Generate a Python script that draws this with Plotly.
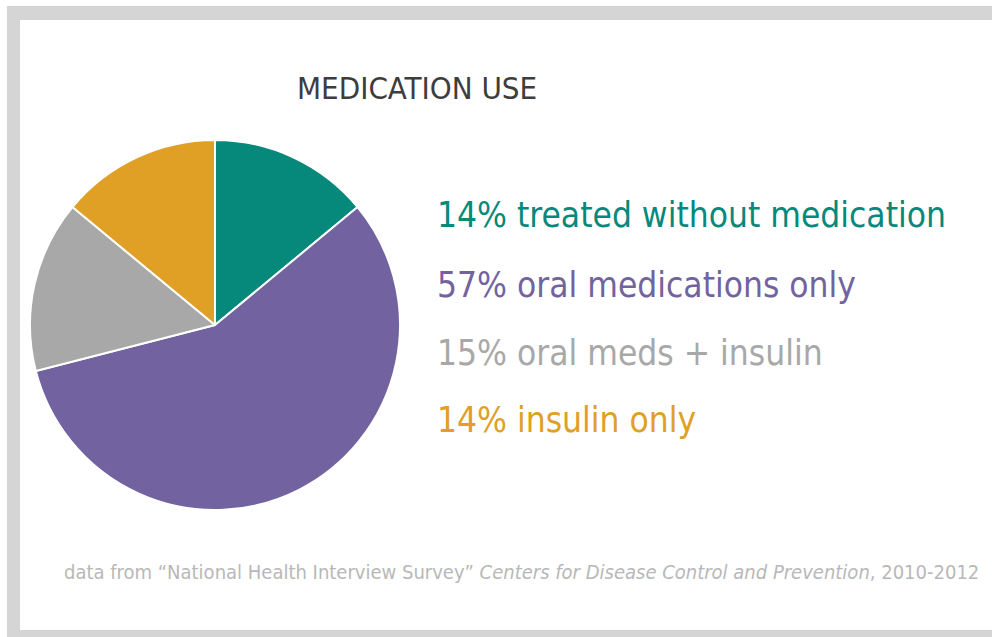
import plotly.graph_objects as go

categories = ["treated without medication", "oral medications only", "oral meds + insulin", "insulin only"]
values = [14, 57, 15, 14]
colors = ["#06897b", "#7263a0", "#a8a8a8", "#e0a026"]
title_text = "MEDICATION USE"
footer_plain = "data from \u201cNational Health Interview Survey\u201d "
footer_italic = "Centers for Disease Control and Prevention"
footer_end = ", 2010-2012"

W, H = 992, 637
FONT = "DejaVu Sans Condensed, Liberation Sans Narrow, sans-serif"

def px(x):
    return x / W

def py(y):
    return 1 - y / H

cx, cy, r = 215, 325, 185

fig = go.Figure()
fig.add_trace(go.Pie(
    labels=categories, values=values, sort=False, direction="clockwise", rotation=0,
    marker=dict(colors=colors, line=dict(color="white", width=2)),
    textinfo="none", hoverinfo="label+percent", showlegend=False,
    domain=dict(x=[px(cx - r), px(cx + r)], y=[py(cy + r), py(cy - r)]),
))

shapes = [
    dict(type="rect", xref="paper", yref="paper", x0=px(7), x1=1, y0=0, y1=py(6),
         fillcolor="#d5d5d5", line=dict(width=0), layer="below"),
    dict(type="rect", xref="paper", yref="paper", x0=px(20), x1=1, y0=py(630), y1=py(20),
         fillcolor="white", line=dict(width=0), layer="below"),
]

annotations = [
    dict(text=title_text, x=px(417), y=py(88), xref="paper", yref="paper", showarrow=False,
         xanchor="center", yanchor="middle", font=dict(family=FONT, size=31, color="#3d3d3d")),
]
line_y = [215, 285, 353, 420]
for cat, v, c, yy in zip(categories, values, colors, line_y):
    annotations.append(dict(text=f"{v}% {cat}", x=px(435), y=py(yy), xref="paper", yref="paper",
                            showarrow=False, xanchor="left", yanchor="middle",
                            font=dict(family=FONT, size=35, color=c)))
annotations.append(dict(text=f"{footer_plain}<i>{footer_italic}</i>{footer_end}", x=px(62), y=py(572),
                        xref="paper", yref="paper", showarrow=False, xanchor="left", yanchor="middle",
                        font=dict(family=FONT, size=20, color="#b8b8b8")))

fig.update_layout(width=W, height=H, margin=dict(l=0, r=0, t=0, b=0),
                  paper_bgcolor="white", plot_bgcolor="white",
                  shapes=shapes, annotations=annotations)
fig.write_html("out.html")
